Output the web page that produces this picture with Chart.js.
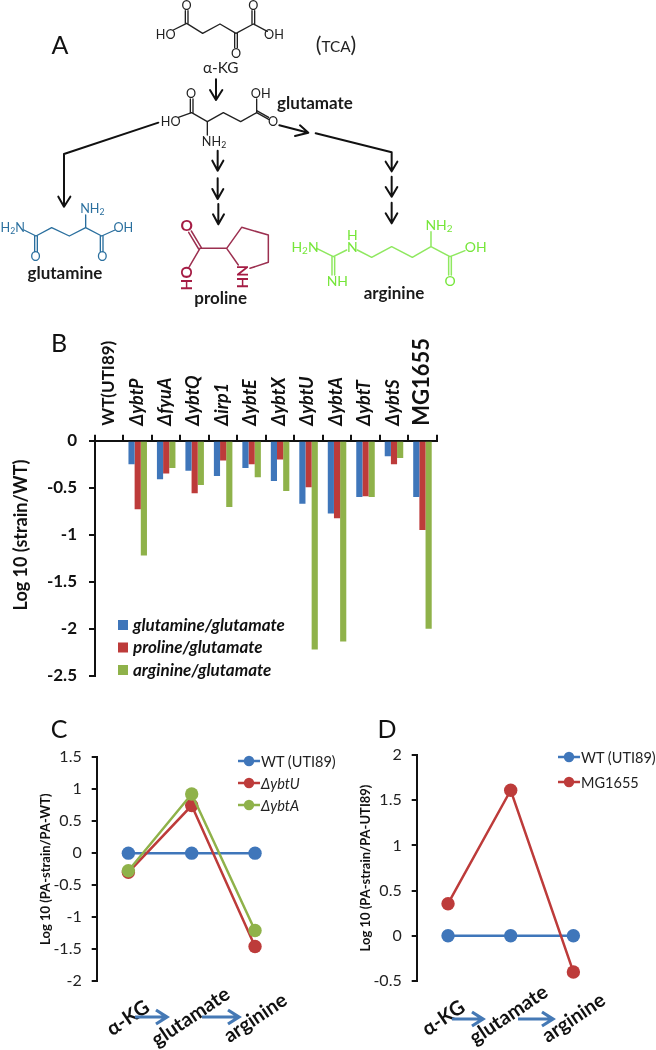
<!DOCTYPE html>
<html>
<head>
<meta charset="utf-8">
<title>Metabolite ratios</title>
<script src="https://cdn.jsdelivr.net/npm/chart.js@4"></script>
<style>
  html, body { margin: 0; padding: 0; background: #fff; }
  #page { position: relative; width: 656px; height: 1050px; overflow: hidden; font-family: Lato, sans-serif; }
  #page canvas { position: absolute; }
  #overlay { position: absolute; left: 0; top: 0; }
  #overlay text { font-family: Lato, sans-serif; }
</style>
</head>
<body>
<div id="page">
  <canvas id="chartB" width="480" height="370" style="left:0;top:320px"></canvas>
  <canvas id="chartC" width="330" height="310" style="left:0;top:740px"></canvas>
  <canvas id="chartD" width="366" height="310" style="left:290px;top:740px"></canvas>

  <svg id="overlay" width="656" height="1050" xmlns="http://www.w3.org/2000/svg">
    <!-- panel A, coordinates are 3x so the structures are easier to trace -->
    <g transform="scale(0.33333)" fill="none" stroke-linecap="round" stroke-linejoin="round">
      <g stroke="#222" stroke-width="4">
        <path d="M520 90L560 70L608 100L660 72L708 100L760 72L802 94"/>
        <path d="M556 70V32M564 70V32M704 100V143M712 100V143M756 72V32M764 72V32"/>
        <path d="M535 352L575 338L622 365L670 338L722 365L770 338L806 358M770 332L806 352"/>
        <path d="M571 338V297M579 338V297M770 338V297M622 365V405"/>
      </g>
      <g stroke="#111" stroke-width="6">
        <path d="M648 238V298M630 270L648 300L667 270"/>
        <path d="M838 376L925 398M900 376L925 398L885 408"/>
        <path d="M475 368L192 462V620M175 590L192 620L211 590"/>
        <path d="M653 452V512M637 482L653 512L670 482"/>
        <path d="M653 535V597M637 567L653 597L670 567"/>
        <path d="M655 612V673M639 643L655 673L672 643"/>
        <path d="M947 400L1175 457V512M1157 485L1175 514L1192 485"/>
        <path d="M1175 530V590M1157 561L1175 590L1192 561"/>
        <path d="M1175 608V670M1157 640L1175 670L1192 640"/>
      </g>
      <g stroke="#2a6f9e" stroke-width="4">
        <path d="M72 690L108 708L155 683L208 708L257 683L305 708L345 690M257 683V645"/>
        <path d="M104 708V755M112 708V755M301 708V755M309 708V755"/>
      </g>
      <g stroke="#9c3050" stroke-width="4.5">
        <path d="M600 745L680 745L725 682L805 705V787L750 805M680 745L715 795M600 745L568 800"/>
        <path d="M566 697L596 747M574 693L604 743"/>
      </g>
      <g stroke="#8fe860" stroke-width="4.5">
        <path d="M950 745L1000 770L1040 750M1072 750L1115 772L1175 740L1237 772L1293 740L1350 770L1395 752M1293 740V695"/>
        <path d="M996 770V825M1004 770V825M1346 770V825M1354 770V825"/>
      </g>
    </g>
    <g text-anchor="middle" transform="scale(0.33333)">
      <g fill="#222" font-size="38">
        <text x="497" y="116">HO</text><text x="822" y="116">OH</text>
        <text x="560" y="30">O</text><text x="760" y="30">O</text><text x="708" y="173">O</text>
        <text x="512" y="378">HO</text><text x="573" y="293">O</text><text x="782" y="293">OH</text>
        <text x="819" y="378">O</text>
        <text x="642" y="438">NH<tspan font-size="26" dy="6">2</tspan></text>
      </g>
      <g fill="#2a6f9e" font-size="38">
        <text x="38" y="696">H<tspan font-size="26" dy="6">2</tspan><tspan dy="-6">N</tspan></text>
        <text x="370" y="696">OH</text><text x="107" y="783">O</text><text x="307" y="783">O</text>
        <text x="277" y="640">NH<tspan font-size="26" dy="6">2</tspan></text>
      </g>
      <g fill="#a51c44" font-size="46" font-weight="700">
        <text x="560" y="694">O</text>
        <text transform="translate(577 835) rotate(-90)">HO</text>
        <text transform="translate(744 830) rotate(-90)">HN</text>
      </g>
      <g fill="#76e63a" font-size="42">
        <text x="915" y="755">H<tspan font-size="30" dy="6">2</tspan><tspan dy="-6">N</tspan></text>
        <text x="1057" y="720">H</text><text x="1057" y="755">N</text>
        <text x="1012" y="858">NH</text>
        <text x="1317" y="690">NH<tspan font-size="30" dy="6">2</tspan></text>
        <text x="1427" y="755">OH</text><text x="1350" y="858">O</text>
      </g>
      <g fill="#1a1a1a" font-size="51" font-weight="700">
        <text x="945" y="328">glutamate</text>
        <text x="195" y="838">glutamine</text>
        <text x="662" y="912">proline</text>
        <text x="1182" y="898">arginine</text>
      </g>
      <text x="662" y="220" font-size="46" fill="#222">α-KG</text>
      <text x="1008" y="157" font-size="46" fill="#222"><tspan font-size="64">(</tspan>TCA<tspan font-size="64">)</tspan></text>
    </g>
    <g font-size="25" fill="#111" text-anchor="middle">
      <text x="60" y="54">A</text>
      <text x="59" y="352">B</text>
      <text x="59" y="738">C</text>
      <text x="387" y="738">D</text>
    </g>
    <text transform="translate(27 535) rotate(-90)" text-anchor="middle" font-size="18" font-weight="700" fill="#111">Log 10 (strain/WT)</text>
    <g stroke="#4579b5" stroke-width="3.2" fill="none">
      <path d="M135 1017H166M156 1010L167 1017L156 1024"/>
      <path d="M202 1017H238M228 1010L239 1017L228 1024"/>
      <path d="M452 1019H482M472 1012L483 1019L472 1026"/>
      <path d="M518 1019H552M542 1012L553 1019L542 1026"/>
    </g>
    <g id="legends"></g>
  </svg>
</div>

<script>
// panel B
const strains = ["WT(UTI89)", "ΔybtP", "ΔfyuA", "ΔybtQ", "Δirp1", "ΔybtE", "ΔybtX", "ΔybtU", "ΔybtA", "ΔybtT", "ΔybtS", "MG1655"];
const glutamineRatio = [0, -0.25, -0.41, -0.32, -0.375, -0.29, -0.43, -0.67, -0.775, -0.6, -0.165, -0.6];
const prolineRatio = [0, -0.73, -0.35, -0.56, -0.21, -0.25, -0.2, -0.495, -0.825, -0.59, -0.25, -0.95];
const arginineRatio = [0, -1.22, -0.29, -0.47, -0.705, -0.39, -0.535, -2.22, -2.135, -0.6, -0.185, -2.0];

// panels C and D
const pathway = ["α-KG", "glutamate", "arginine"];
const wtC = [0, 0, 0];
const ybtU = [-0.3, 0.745, -1.46];
const ybtA = [-0.275, 0.925, -1.21];
const wtD = [0, 0, 0];
const mg1655 = [0.355, 1.61, -0.4];

const BLUE = "#3f76ba";
const RED = "#bd3b3a";
const GREEN = "#8fb24a";
const INK = "#111";

Chart.defaults.font.family = "Lato, sans-serif";
Chart.defaults.color = INK;

// x labels of C and D sit slanted next to the arrows, not under their points
const slantedLabels = {
  id: "slantedLabels",
  afterDraw(chart, args, opts) {
    const ctx = chart.ctx;
    const scale = chart.scales.x;
    ctx.save();
    ctx.font = "bold 20px Lato, sans-serif";
    ctx.fillStyle = INK;
    ctx.textAlign = "right";
    ctx.textBaseline = "middle";
    scale.getLabels().forEach((label, i) => {
      ctx.save();
      ctx.translate(scale.getPixelForTick(i) + opts.dx[i], opts.y[i]);
      ctx.rotate(-34 * Math.PI / 180);
      ctx.fillText(label, 0, 0);
      ctx.restore();
    });
    ctx.restore();
  }
};

// fixed axis width, and no extra room for the first and last tick label
function fitY(width) {
  return scale => {
    scale.width = width;
    scale.paddingTop = 0;
    scale.paddingBottom = 0;
  };
}

new Chart(document.getElementById("chartB"), {
  type: "bar",
  data: {
    labels: strains,
    datasets: [
      { label: "glutamine/glutamate", data: glutamineRatio, backgroundColor: BLUE },
      { label: "proline/glutamate", data: prolineRatio, backgroundColor: RED },
      { label: "arginine/glutamate", data: arginineRatio, backgroundColor: GREEN }
    ]
  },
  options: {
    responsive: false,
    animation: false,
    layout: { padding: { bottom: 14.3, right: 43.3 } },
    datasets: { bar: { categoryPercentage: 0.65, barPercentage: 1 } },
    plugins: { legend: { display: false }, tooltip: { enabled: false } },
    scales: {
      x: {
        position: "top",
        afterFit: scale => { scale.height = 120.7; },
        border: { color: INK, width: 2 },
        grid: { drawOnChartArea: false, color: INK, lineWidth: 2, tickLength: 6 },
        ticks: {
          autoSkip: false,
          minRotation: 90,
          maxRotation: 90,
          padding: 9,
          labelOffset: 19,
          color: INK,
          // fixed line height keeps all labels on the same offset from their tick
          font: ctx => {
            if (ctx.index === 0) return { size: 17, weight: "bold", lineHeight: "20px" };
            if (ctx.index === strains.length - 1) return { size: 22, weight: "bold", lineHeight: "20px" };
            return { size: 18, style: "italic", weight: "bold", lineHeight: "20px" };
          }
        }
      },
      y: {
        min: -2.5,
        max: 0,
        afterFit: fitY(95),
        border: { color: INK, width: 2 },
        grid: { drawOnChartArea: false, color: INK, lineWidth: 2, tickLength: 6 },
        ticks: {
          stepSize: 0.5,
          padding: 12,
          color: INK,
          font: { size: 17, weight: "bold" },
          callback: v => String(v)
        }
      }
    }
  }
});

function lineSeries(label, data, color, order) {
  return {
    label, data, order,
    borderColor: color,
    backgroundColor: color,
    borderWidth: 2.5,
    pointRadius: 6.7,
    pointBackgroundColor: color,
    pointBorderColor: color,
    pointBorderWidth: 0
  };
}

function lineChart(id, datasets, yRange, title, titleOffset, padding, labelDx, labelY) {
  new Chart(document.getElementById(id), {
    type: "line",
    data: { labels: pathway, datasets },
    plugins: [slantedLabels],
    options: {
      responsive: false,
      animation: false,
      layout: { padding },
      plugins: {
        legend: { display: false },
        tooltip: { enabled: false },
        slantedLabels: { dx: labelDx, y: labelY }
      },
      scales: {
        x: {
          offset: true,
          border: { display: false },
          grid: { display: false },
          ticks: { display: false },
          afterFit: scale => { scale.height = 0; }
        },
        y: {
          min: yRange[0],
          max: yRange[1],
          afterFit: fitY(titleOffset.width),
          border: { color: INK, width: 2 },
          grid: { drawOnChartArea: false, color: INK, lineWidth: 2, tickLength: 5 },
          title: {
            display: true,
            text: title,
            color: INK,
            font: { size: 13, weight: "bold" },
            padding: { top: titleOffset.top, bottom: 0 }
          },
          ticks: {
            stepSize: 0.5,
            padding: 10,
            color: "#222",
            font: { size: 16 },
            callback: v => String(v)
          }
        }
      }
    }
  });
}

lineChart("chartC",
  [lineSeries("WT (UTI89)", wtC, BLUE, 3), lineSeries("ΔybtU", ybtU, RED, 2), lineSeries("ΔybtA", ybtA, GREEN, 1)],
  [-2, 1.5], "Log 10 (PA-strain/PA-WT)", { width: 96.7, top: 38 },
  { top: 17.3, bottom: 69, right: 43.3 }, [19, 36, 30], [265, 252, 258]);

lineChart("chartD",
  [lineSeries("WT (UTI89)", wtD, BLUE, 2), lineSeries("MG1655", mg1655, RED, 1)],
  [-0.5, 2], "Log 10 (PA-strain/PA-UTI89)", { width: 126.7, top: 68 },
  { top: 15, bottom: 69, right: 51.3 }, [15, 35, 30], [265, 250, 258]);

// legends: the library keeps one font per legend and these mix regular and italic
const SVG_NS = "http://www.w3.org/2000/svg";
const legendLayer = document.getElementById("legends");

function svgEl(tag, attrs, text) {
  const el = document.createElementNS(SVG_NS, tag);
  Object.keys(attrs).forEach(k => el.setAttribute(k, attrs[k]));
  if (text) el.textContent = text;
  legendLayer.appendChild(el);
  return el;
}

function barLegend(x, y, gap, items) {
  items.forEach((item, i) => {
    const cy = y + i * gap;
    svgEl("rect", { x, y: cy - 5, width: 10, height: 10, fill: item.color });
    svgEl("text", { x: x + 15, y: cy + 5.5, "font-size": 17, "font-weight": 700, "font-style": "italic", fill: INK }, item.name);
  });
}

function lineLegend(x, y, gap, items) {
  items.forEach((item, i) => {
    const cy = y + i * gap;
    svgEl("line", { x1: x, x2: x + 22, y1: cy, y2: cy, stroke: item.color, "stroke-width": 2.5 });
    svgEl("circle", { cx: x + 11, cy, r: 5.2, fill: item.color });
    svgEl("text", { x: x + 23, y: cy + 5.5, "font-size": 14.5, "font-style": item.name[0] === "Δ" ? "italic" : "normal", fill: "#222" }, item.name);
  });
}

barLegend(118, 625, 22.5, [
  { name: "glutamine/glutamate", color: BLUE },
  { name: "proline/glutamate", color: RED },
  { name: "arginine/glutamate", color: GREEN }
]);
lineLegend(238, 761, 22, [
  { name: "WT (UTI89)", color: BLUE },
  { name: "ΔybtU", color: RED },
  { name: "ΔybtA", color: GREEN }
]);
lineLegend(558, 757, 25, [
  { name: "WT (UTI89)", color: BLUE },
  { name: "MG1655", color: RED }
]);
</script>
</body>
</html>
